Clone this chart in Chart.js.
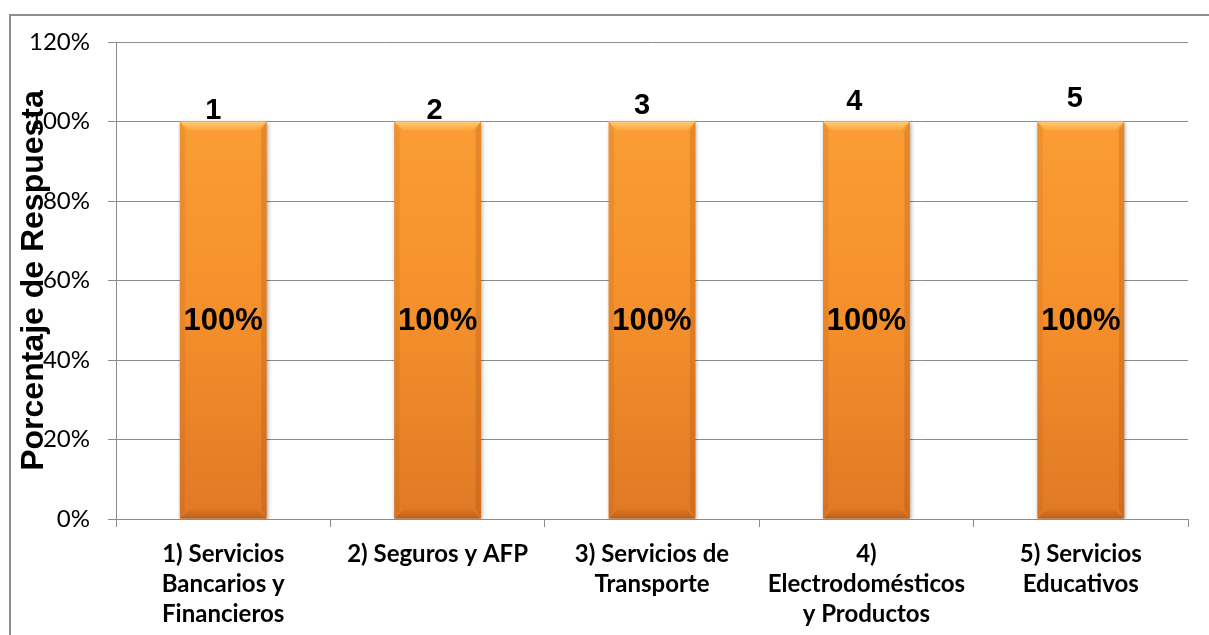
<!DOCTYPE html>
<html>
<head>
<meta charset="utf-8">
<script src="https://cdn.jsdelivr.net/npm/chart.js@4/dist/chart.umd.min.js"></script>
<style>
  html, body { margin: 0; padding: 0; background: #ffffff; }
  #wrap { position: relative; width: 1209px; height: 635px; overflow: hidden; }
  #frame { position: absolute; left: 9px; top: 14px; width: 1400px; height: 800px;
           border-left: 2px solid #8e8e8e; border-top: 2px solid #8e8e8e; box-sizing: border-box; }
  canvas { position: absolute; left: 0; top: 0; }
</style>
</head>
<body>
<div id="wrap">
  <div id="frame"></div>
  <canvas id="chart" width="1209" height="635"></canvas>
</div>
<script>
// Service sectors (multi-line category labels)
const categories = [
  ['1) Servicios', 'Bancarios y', 'Financieros'],
  ['2) Seguros y AFP'],
  ['3) Servicios de', 'Transporte'],
  ['4)', 'Electrodomésticos', 'y Productos'],
  ['5) Servicios', 'Educativos']
];
// Percentage of response per sector
const responsePct = [100, 100, 100, 100, 100];
// Sector numbers shown above each bar
const sectorNumbers = ['1', '2', '3', '4', '5'];
// Y axis tick values (percent)
const yTickValues = [0, 20, 40, 60, 80, 100, 120];
const yAxisTitle = 'Porcentaje de Respuesta';

const GRID = '#8c8c8c';

// Bar fill: vertical orange gradient
function barGradient(ctx) {
  const chart = ctx.chart;
  const area = chart.chartArea;
  if (!area) return '#F39232';
  const y = chart.scales.y;
  const g = chart.ctx.createLinearGradient(0, y.getPixelForValue(100), 0, y.getPixelForValue(0));
  g.addColorStop(0, '#FB9C34');
  g.addColorStop(0.45, '#F5912C');
  g.addColorStop(1, '#E07925');
  return g;
}

// Soft bevel on each bar: light top edge, dark bottom edge, shaded sides
const bevelPlugin = {
  id: 'bevel',
  beforeDatasetsDraw(chart) {
    const c = chart.ctx;
    c.save();
    c.shadowColor = 'rgba(0,0,0,0.35)';
    c.shadowBlur = 4;
    c.shadowOffsetX = 1;
    c.shadowOffsetY = 1;
  },
  afterDatasetsDraw(chart) {
    const c = chart.ctx;
    c.restore();
    const meta = chart.getDatasetMeta(0);
    meta.data.forEach(bar => {
      const l = bar.x - bar.width / 2, r = bar.x + bar.width / 2;
      const t = bar.y, b = bar.base, s = 9;
      c.save();
      // top facet
      let g = c.createLinearGradient(0, t, 0, t + s);
      g.addColorStop(0, '#FFCB78');
      g.addColorStop(1, '#FBA63F');
      c.fillStyle = g;
      c.beginPath();
      c.moveTo(l, t); c.lineTo(r, t); c.lineTo(r - s, t + s); c.lineTo(l + s, t + s); c.closePath();
      c.fill();
      // bottom facet
      g = c.createLinearGradient(0, b - s, 0, b);
      g.addColorStop(0, 'rgba(150,70,10,0.10)');
      g.addColorStop(1, 'rgba(130,60,10,0.40)');
      c.fillStyle = g;
      c.beginPath();
      c.moveTo(l, b); c.lineTo(r, b); c.lineTo(r - s, b - s); c.lineTo(l + s, b - s); c.closePath();
      c.fill();
      // side facets
      c.fillStyle = 'rgba(160,80,20,0.14)';
      c.beginPath();
      c.moveTo(l, t); c.lineTo(l + s * 0.6, t + s); c.lineTo(l + s * 0.6, b - s); c.lineTo(l, b); c.closePath();
      c.fill();
      c.fillStyle = 'rgba(150,70,10,0.22)';
      c.beginPath();
      c.moveTo(r, t); c.lineTo(r - s * 0.6, t + s); c.lineTo(r - s * 0.6, b - s); c.lineTo(r, b); c.closePath();
      c.fill();
      c.restore();
    });
  }
};

// Value labels inside the bars and sector numbers above them
const labelPlugin = {
  id: 'barLabels',
  afterDatasetsDraw(chart, args, opts) {
    const c = chart.ctx;
    const y = chart.scales.y;
    const meta = chart.getDatasetMeta(0);
    c.save();
    c.fillStyle = '#000';
    c.textAlign = 'center';
    meta.data.forEach((bar, i) => {
      const v = responsePct[i];
      c.font = 'bold 31px "Liberation Sans", Arial, sans-serif';
      c.textBaseline = 'middle';
      c.fillText(v + '%', bar.x, y.getPixelForValue(v / 2) + 1);
      const n = opts.numberNudge[i];
      c.font = 'bold 29px "Liberation Sans", Arial, sans-serif';
      c.textBaseline = 'alphabetic';
      c.fillText(sectorNumbers[i], bar.x + n.dx, bar.y - n.dy);
    });
    c.restore();
  }
};

// Rotated Y axis title overlapping the tick labels
const yTitlePlugin = {
  id: 'yTitle',
  afterDraw(chart) {
    const c = chart.ctx;
    const a = chart.chartArea;
    c.save();
    c.translate(43, (a.top + a.bottom) / 2);
    c.rotate(-Math.PI / 2);
    c.font = 'bold 32px "Liberation Sans", Arial, sans-serif';
    c.fillStyle = '#000';
    c.textAlign = 'center';
    c.textBaseline = 'alphabetic';
    c.fillText(yAxisTitle, 0, 0);
    c.restore();
  }
};

new Chart(document.getElementById('chart'), {
  type: 'bar',
  data: {
    labels: categories,
    datasets: [{
      data: responsePct,
      backgroundColor: barGradient,
      borderWidth: 0,
      barPercentage: 0.405,
      categoryPercentage: 1
    }]
  },
  options: {
    responsive: false,
    animation: false,
    events: [],
    layout: { padding: { left: 0, top: 42, right: 21, bottom: 0 } },
    plugins: {
      legend: { display: false },
      tooltip: { enabled: false },
      barLabels: {
        numberNudge: [
          { dx: -10, dy: 3 },
          { dx: -3, dy: 3 },
          { dx: -10, dy: 8 },
          { dx: -12, dy: 12 },
          { dx: -6, dy: 15 }
        ]
      }
    },
    scales: {
      x: {
        grid: { drawOnChartArea: false, drawTicks: true, tickLength: 8, color: GRID, offset: true },
        border: { display: true, color: GRID, width: 1 },
        ticks: {
          color: '#000',
          padding: 12,
          maxRotation: 0,
          autoSkip: false,
          font: { family: 'Lato, "Open Sans", sans-serif', size: 24, weight: 'bold', lineHeight: 1.25 }
        },
        afterFit(scale) { scale.height = 116; }
      },
      y: {
        min: 0,
        max: 120,
        afterBuildTicks(scale) { scale.ticks = yTickValues.map(v => ({ value: v })); },
        grid: { color: GRID, tickLength: 8, lineWidth: 1 },
        border: { display: true, color: GRID, width: 1 },
        ticks: {
          color: '#000',
          padding: 18,
          callback: v => v + '%',
          font: { family: 'Lato, "Open Sans", sans-serif', size: 24 }
        },
        afterFit(scale) { scale.width = 116; }
      }
    }
  },
  plugins: [bevelPlugin, labelPlugin, yTitlePlugin]
});
</script>
</body>
</html>
